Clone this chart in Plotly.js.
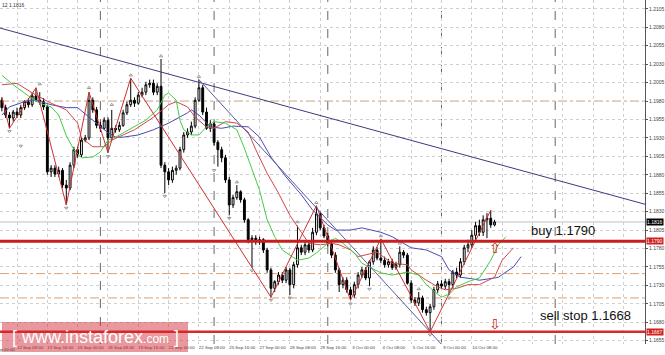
<!DOCTYPE html>
<html><head><meta charset="utf-8">
<script src="https://cdn.plot.ly/plotly-3.0.1.min.js"></script>
<style>html,body{margin:0;padding:0;background:#fff}#chart{width:665px;height:355px}</style>
</head><body><div id="chart"></div>
<script>
// H4 bars, index 0 = 11 Sep 00:00
const barIdx = [4,5,6,7,8,9,10,11,12,13,14,15,16,17,18,19,20,21,22,23,24,25,26,27,28,29,30,31,32,33,34,35,36,37,38,39,40,41,42,43,44,45,46,47,48,49,50,51,52,53,54,55,56,57,58,59,60,61,62,63,64,65,66,67,68,69,70,71,72,73,74,75,76,77,78,79,80,81,82,83,84,85,86,87,88,89,90,91,92,93,94,95,96,97,98,99,100,101,102,103,104,105,106,107,108,109,110,111,112,113,114,115,116,117,118,119,120,121,122,123,124,125,126,127,128,129,130,131,132,133,134];
const openP = [1.1981,1.1971,1.1961,1.1957,1.1965,1.1961,1.1971,1.1979,1.1975,1.1987,1.1981,1.1979,
1.1972,1.1884,1.1889,1.1881,1.1886,1.1866,1.1862,1.1893,1.1914,1.1907,1.1927,1.1930,
1.1981,1.1968,1.1947,1.1943,1.1954,1.1930,1.1943,1.1941,1.1947,1.1964,1.1975,1.1981,
1.1977,1.1988,1.1992,1.2002,1.2004,1.1992,1.2000,1.1893,1.1884,1.1873,1.1886,1.1889,
1.1914,1.1934,1.1938,1.1946,1.1981,1.1998,1.1965,1.1943,1.1949,1.1924,1.1914,1.1903,
1.1873,1.1839,1.1849,1.1857,1.1846,1.1819,1.1792,1.1794,1.1789,1.1792,1.1778,1.1751,
1.1726,1.1735,1.1744,1.1737,1.1751,1.1731,1.1758,1.1781,1.1775,1.1785,1.1778,1.1802,
1.1827,1.1808,1.1797,1.1787,1.1771,1.1751,1.1731,1.1737,1.1724,1.1717,1.1731,1.1744,
1.1751,1.1740,1.1762,1.1778,1.1767,1.1764,1.1758,1.1762,1.1754,1.1758,1.1775,1.1771,
1.1733,1.1710,1.1706,1.1713,1.1697,1.1693,1.1701,1.1724,1.1732,1.1729,1.1735,1.1731,
1.1748,1.1744,1.1762,1.1781,1.1785,1.1798,1.1811,1.1802,1.1819,1.1821,1.1812];
const highP = [1.1985,1.1975,1.1965,1.1968,1.1971,1.1975,1.1981,1.1984,1.1991,1.1998,1.1992,1.1984,
1.1975,1.1893,1.1893,1.1891,1.1889,1.1873,1.1897,1.1918,1.1918,1.1931,1.1934,1.1992,
1.1985,1.1972,1.1952,1.1958,1.1958,1.1968,1.1947,1.1952,1.1968,1.1979,1.2011,1.1985,
1.1992,1.1998,1.2006,1.2009,1.2009,1.2004,1.2037,1.1897,1.1889,1.1891,1.1893,1.1918,
1.1938,1.1943,1.1952,1.1985,1.2009,1.2002,1.1971,1.1954,1.1952,1.1927,1.1918,1.1907,
1.1877,1.1853,1.1866,1.1859,1.1849,1.1821,1.1798,1.1798,1.1796,1.1794,1.1781,1.1754,
1.1737,1.1748,1.1748,1.1755,1.1754,1.1762,1.1811,1.1785,1.1789,1.1789,1.1808,1.1838,
1.1830,1.1812,1.1801,1.1792,1.1775,1.1754,1.1741,1.1741,1.1728,1.1735,1.1748,1.1755,
1.1755,1.1764,1.1783,1.1782,1.1793,1.1769,1.1766,1.1766,1.1762,1.1783,1.1778,1.1774,
1.1737,1.1714,1.1721,1.1716,1.1701,1.1705,1.1728,1.1736,1.1737,1.1739,1.1739,1.1751,
1.1754,1.1767,1.1785,1.1792,1.1805,1.1816,1.1819,1.1825,1.1828,1.1832,1.1819];
const lowP = [1.1966,1.1957,1.1943,1.1952,1.1957,1.1957,1.1968,1.1971,1.1972,1.1979,1.1975,1.1968,
1.1880,1.1877,1.1877,1.1877,1.1862,1.1839,1.1859,1.1889,1.1903,1.1904,1.1924,1.1927,
1.1964,1.1943,1.1938,1.1941,1.1910,1.1927,1.1937,1.1938,1.1945,1.1961,1.1972,1.1972,
1.1975,1.1985,1.1988,1.1998,1.1988,1.1988,1.1889,1.1855,1.1866,1.1869,1.1880,1.1886,
1.1910,1.1930,1.1934,1.1943,1.1979,1.1961,1.1941,1.1938,1.1920,1.1891,1.1897,1.1869,
1.1825,1.1835,1.1846,1.1842,1.1815,1.1787,1.1754,1.1785,1.1785,1.1774,1.1747,1.1714,
1.1721,1.1731,1.1733,1.1733,1.1717,1.1726,1.1754,1.1771,1.1771,1.1774,1.1775,1.1798,
1.1805,1.1794,1.1783,1.1767,1.1747,1.1721,1.1726,1.1720,1.1710,1.1713,1.1726,1.1740,
1.1737,1.1729,1.1758,1.1764,1.1760,1.1754,1.1754,1.1751,1.1751,1.1754,1.1767,1.1731,
1.1706,1.1702,1.1702,1.1693,1.1689,1.1667,1.1697,1.1720,1.1725,1.1725,1.1717,1.1726,
1.1740,1.1740,1.1758,1.1775,1.1781,1.1792,1.1797,1.1797,1.1794,1.1808,1.1810];
const closeP = [1.1971,1.1961,1.1957,1.1965,1.1961,1.1971,1.1979,1.1975,1.1987,1.1981,1.1979,1.1972,
1.1884,1.1889,1.1881,1.1886,1.1866,1.1862,1.1893,1.1914,1.1907,1.1927,1.1930,1.1981,
1.1968,1.1947,1.1943,1.1954,1.1930,1.1943,1.1941,1.1947,1.1964,1.1975,1.1981,1.1977,
1.1988,1.1992,1.2002,1.2004,1.1992,1.2000,1.1893,1.1884,1.1873,1.1886,1.1889,1.1914,
1.1934,1.1938,1.1946,1.1981,1.1998,1.1965,1.1943,1.1949,1.1924,1.1914,1.1903,1.1873,
1.1839,1.1849,1.1857,1.1846,1.1819,1.1792,1.1794,1.1789,1.1792,1.1778,1.1751,1.1726,
1.1735,1.1744,1.1737,1.1751,1.1731,1.1758,1.1781,1.1775,1.1785,1.1778,1.1802,1.1827,
1.1808,1.1797,1.1787,1.1771,1.1751,1.1731,1.1737,1.1724,1.1717,1.1731,1.1744,1.1751,
1.1740,1.1762,1.1778,1.1767,1.1764,1.1758,1.1762,1.1754,1.1758,1.1775,1.1771,1.1733,
1.1710,1.1706,1.1713,1.1697,1.1693,1.1701,1.1724,1.1732,1.1729,1.1735,1.1731,1.1748,
1.1744,1.1762,1.1781,1.1785,1.1798,1.1811,1.1802,1.1819,1.1821,1.1812,1.1816];

// Alligator-style lines
const lipsIdx = [4,7,11,14,17,19,21,23,25,28,30,32,34,36,39,42,45,47,48,50,51,52,54,56,58,60,63,66,68,70,72,74,76,78,82,85,87,90,92,94,97,99,104,107,111,114,116,120,122,124,127,130,133,135,137];
const lipsP = [1.2015,1.2002,1.1987,1.1977,1.1972,1.1961,1.1933,1.1914,1.1903,1.1904,1.1911,1.1927,1.1931,1.1937,1.1945,1.1954,1.1968,1.1988,1.1991,1.1981,1.1954,1.1941,1.1934,1.1934,1.1945,1.1952,1.1950,1.1941,1.1916,1.1886,1.1859,1.1819,1.1796,1.1778,1.1764,1.1767,1.1774,1.1787,1.1794,1.1787,1.1774,1.1760,1.1747,1.1744,1.1748,1.1744,1.1731,1.1714,1.1718,1.1728,1.1735,1.1740,1.1764,1.1785,1.1796];
const teethIdx = [4,8,12,17,21,24,25,28,31,33,36,39,44,48,50,53,55,58,60,63,66,69,71,74,77,80,83,85,88,91,93,96,98,103,107,111,112,116,119,121,124,127,130,134,136,139];
const teethP = [1.2002,1.2004,1.1991,1.1977,1.1968,1.1950,1.1930,1.1918,1.1918,1.1927,1.1934,1.1941,1.1958,1.1975,1.1979,1.1972,1.1958,1.1945,1.1943,1.1952,1.1950,1.1938,1.1914,1.1882,1.1855,1.1825,1.1802,1.1787,1.1785,1.1787,1.1785,1.1778,1.1769,1.1775,1.1760,1.1758,1.1751,1.1737,1.1728,1.1724,1.1726,1.1731,1.1731,1.1741,1.1764,1.1781];
const jawIdx = [4,6,11,13,17,21,24,28,32,34,36,40,44,48,53,54,56,59,62,65,69,72,75,79,83,86,90,92,96,99,104,107,112,116,120,122,125,128,130,134,135,139,141];
const jawP = [1.1961,1.1972,1.1981,1.1981,1.1975,1.1971,1.1971,1.1954,1.1937,1.1931,1.1931,1.1934,1.1941,1.1950,1.1964,1.1968,1.1961,1.1945,1.1943,1.1946,1.1945,1.1931,1.1904,1.1877,1.1853,1.1832,1.1812,1.1805,1.1805,1.1808,1.1802,1.1796,1.1781,1.1778,1.1769,1.1751,1.1741,1.1739,1.1737,1.1740,1.1741,1.1755,1.1769];

// ZigZag swing points
const zzIdx = [4,6,13,21,27,32,38,75,87,96,104,117,133];
const zzP = [1.1985,1.1943,1.1998,1.1839,1.1992,1.1910,1.2011,1.1714,1.1838,1.1710,1.1793,1.1667,1.1832];

// Fractals
const fracUpIdx = [14,27,33,38,46,56,66,82,87,104,109,114];
const fracUpP = [1.2003,1.1998,1.1975,1.2015,1.2041,1.2013,1.1870,1.1816,1.1842,1.1797,1.1787,1.1725];
const fracDnIdx = [6,9,21,32,47,60,64,70,75,80,96,101,117,122];
const fracDnP = [1.1939,1.1919,1.1835,1.1905,1.1851,1.1886,1.1821,1.1750,1.1710,1.1713,1.1705,1.1725,1.1663,1.1713];

// Trend lines (endpoints)
const trendIdx = [3.5,173.7];
const trendP = [1.2079,1.1840];
const chanIdx = [56,120];
const chanP = [1.2009,1.1650];

// Levels
const buyLevel = 1.1790;
const sellStopLevel = 1.1667;
const bidPrice = 1.1816;
const dashLevels = [1.1980,1.1746,1.1713];
const weekStartIdx = [30,60,90,120,150];
const arrowIdx = 134;

// Axes
const gridIdx = [8,16,24,32,40,48,56,64,72,80,88,96,104,112,120,128,136,144,152,160,168];
const gridLabels = ['12 Sep 08:00','13 Sep 16:00','15 Sep 00:00','18 Sep 08:00','19 Sep 16:00','21 Sep 00:00','22 Sep 08:00','25 Sep 16:00','27 Sep 00:00','28 Sep 08:00','29 Sep 16:00','3 Oct 00:00','4 Oct 08:00','5 Oct 16:00','9 Oct 00:00','10 Oct 08:00','','','','',''];
const firstLabel = '11 Sep 00:00';
const priceTicks = [1.1655,1.1680,1.1705,1.1730,1.1755,1.1780,1.1805,1.1830,1.1855,1.1880,1.1905,1.1930,1.1955,1.1980,1.2005,1.2030,1.2055,1.2080,1.2105];

const xRange = [3.51,173.7];
const traces = [
  {type:'scatter',mode:'lines',x:jawIdx,y:jawP,line:{color:'#4a4ab4',width:1},hoverinfo:'skip'},
  {type:'scatter',mode:'lines',x:teethIdx,y:teethP,line:{color:'#d04848',width:1},hoverinfo:'skip'},
  {type:'scatter',mode:'lines',x:lipsIdx,y:lipsP,line:{color:'#44cc44',width:1},hoverinfo:'skip'},
  {type:'scatter',mode:'lines',x:zzIdx,y:zzP,line:{color:'#cc3030',width:1},hoverinfo:'skip'},
  {type:'scatter',mode:'lines',x:trendIdx,y:trendP,line:{color:'#3c3c7c',width:1},hoverinfo:'skip'},
  {type:'scatter',mode:'lines',x:chanIdx,y:chanP,line:{color:'#5a5aa0',width:1},hoverinfo:'skip'},
  {type:'candlestick',x:barIdx,open:openP,high:highP,low:lowP,close:closeP,
   increasing:{line:{color:'#000',width:1},fillcolor:'#fff'},
   decreasing:{line:{color:'#000',width:1},fillcolor:'#000'},
   whiskerwidth:0,hoverinfo:'skip'},
  {type:'scatter',mode:'markers',x:fracUpIdx,y:fracUpP,marker:{symbol:'triangle-up-open',size:3,color:'#999',line:{width:1}},hoverinfo:'skip'},
  {type:'scatter',mode:'markers',x:fracDnIdx,y:fracDnP,marker:{symbol:'triangle-down-open',size:3,color:'#999',line:{width:1}},hoverinfo:'skip'}
];

const shapes = [];
weekStartIdx.forEach(v=>shapes.push({type:'line',xref:'x',yref:'paper',x0:v,x1:v,y0:0,y1:1,line:{color:'#666',width:1,dash:'dash'},layer:'below'}));
dashLevels.forEach(v=>shapes.push({type:'line',xref:'paper',yref:'y',x0:0,x1:1,y0:v,y1:v,line:{color:'#e0a070',width:1,dash:'dashdot'},layer:'below'}));
shapes.push({type:'line',xref:'paper',yref:'y',x0:0,x1:1,y0:bidPrice,y1:bidPrice,line:{color:'#c0c0c0',width:1},layer:'below'});
shapes.push({type:'line',xref:'paper',yref:'y',x0:0,x1:1,y0:buyLevel,y1:buyLevel,line:{color:'#c81e1e',width:3}});
shapes.push({type:'line',xref:'paper',yref:'y',x0:0,x1:1,y0:sellStopLevel,y1:sellStopLevel,line:{color:'#d82a2a',width:2.5}});
// watermark box
shapes.push({type:'rect',xref:'paper',yref:'paper',x0:2/645,x1:188/645,y0:-8/344,y1:22/344,fillcolor:'rgba(210,40,50,0.48)',line:{width:0},layer:'above'});

const lab = (txt,y,bg)=>({xref:'paper',yref:'y',x:1,y:y,xanchor:'left',yanchor:'middle',xshift:1,text:txt,showarrow:false,bgcolor:bg,borderpad:0,font:{size:5,color:'#fff',family:'Liberation Sans'}});
const annotations = [
  {xref:'paper',yref:'paper',x:0,y:1,xanchor:'left',yanchor:'top',text:'12 1.1816',showarrow:false,font:{size:5,color:'#333',family:'Liberation Sans'}},
  {xref:'paper',yref:'paper',x:(0-xRange[0])/(xRange[1]-xRange[0]),y:0,yanchor:'top',xanchor:'left',yshift:-1,text:firstLabel,showarrow:false,font:{size:4.4,color:'#444',family:'Liberation Sans'}},
  lab(bidPrice.toFixed(4),bidPrice,'#000'),
  lab(buyLevel.toFixed(4),buyLevel,'#d02020'),
  lab(sellStopLevel.toFixed(4),sellStopLevel,'#d02020'),
  {xref:'paper',yref:'y',x:529/645,y:buyLevel,xanchor:'left',yanchor:'bottom',yshift:1,text:'buy '+buyLevel.toFixed(4),showarrow:false,font:{size:13,color:'#111',family:'Liberation Sans'}},
  {xref:'paper',yref:'y',x:538/645,y:sellStopLevel,xanchor:'left',yanchor:'bottom',yshift:7,text:'sell stop 1.1668',showarrow:false,font:{size:13,color:'#111',family:'Liberation Sans'}},
  {xref:'x',yref:'y',x:arrowIdx,y:buyLevel,xanchor:'center',yanchor:'top',yshift:3,text:'⇧',showarrow:false,font:{size:14,color:'#d02020',family:'DejaVu Sans'}},
  {xref:'x',yref:'y',x:arrowIdx,y:sellStopLevel,xanchor:'center',yanchor:'bottom',yshift:-2,text:'⇩',showarrow:false,font:{size:14,color:'#d02020',family:'DejaVu Sans'}},
  {xref:'paper',yref:'paper',x:10/645,y:7/344,xanchor:'left',yanchor:'middle',text:'[ www.instaforex<span style="font-size:12px">.com</span> ]',showarrow:false,font:{size:18,color:'#fff',family:'Liberation Sans'}}
];

const layout = {
  width:665,height:355,margin:{l:0,r:20,t:0,b:11},
  paper_bgcolor:'#fff',plot_bgcolor:'#fff',showlegend:false,
  font:{family:'Liberation Sans'},
  xaxis:{range:xRange,tickmode:'array',tickvals:gridIdx,ticktext:gridLabels,tickangle:0,ticklabelshift:13,ticklabelstandoff:0,
    showgrid:true,gridcolor:'#cfcfcf',griddash:'dot',gridwidth:1,zeroline:false,showline:false,ticks:'',
    tickfont:{size:4.4,color:'#444'},rangeslider:{visible:false},fixedrange:true,automargin:false},
  yaxis:{range:[1.16505,1.2117],side:'right',tickmode:'array',tickvals:priceTicks,tickformat:'.4f',
    showgrid:true,gridcolor:'#cfcfcf',griddash:'dot',gridwidth:1,zeroline:false,
    showline:true,linecolor:'#555',linewidth:1,ticks:'outside',ticklen:2,tickcolor:'#555',
    tickfont:{size:5,color:'#444'},fixedrange:true,automargin:false},
  shapes:shapes,annotations:annotations
};
Plotly.newPlot('chart',traces,layout,{displayModeBar:false,staticPlot:true});
</script></body></html>
